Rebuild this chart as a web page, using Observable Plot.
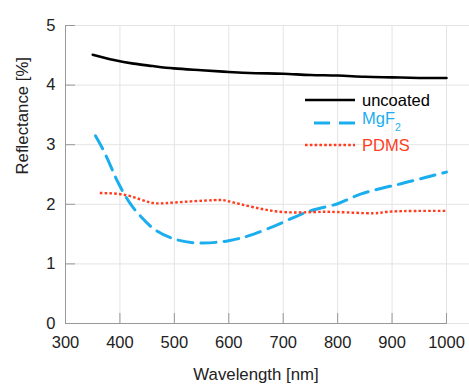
<!DOCTYPE html>
<html>
<head>
<meta charset="utf-8">
<script src="https://cdn.jsdelivr.net/npm/d3@7"></script>
<script src="https://cdn.jsdelivr.net/npm/@observablehq/plot@0.6"></script>
<style>
  html, body { margin: 0; padding: 0; background: #fff; }
  #wrap { position: relative; width: 469px; height: 385px; font-family: "Liberation Sans", Arial, sans-serif; }
  #legend { position: absolute; left: 305px; top: 89px; font-size: 16.5px; line-height: 22.5px; }
  #legend .row { display: flex; align-items: center; height: 22.5px; }
  #legend svg { width: 52px; height: 10px; margin-right: 5px; }
  sub { font-size: 10.5px; vertical-align: -7px; }
</style>
</head>
<body>
<div id="wrap">
  <div id="chart"></div>
  <div id="legend"></div>
</div>
<script>
const wavelengthUncoated = [350, 389, 425, 460, 499, 550, 600, 650, 700, 750, 800, 850, 900, 950, 1000];
const uncoated =           [4.51, 4.42, 4.36, 4.32, 4.28, 4.25, 4.22, 4.20, 4.19, 4.17, 4.16, 4.14, 4.13, 4.12, 4.12];

const wavelengthMgF2 = [355, 370, 385, 398, 419, 440, 462, 499, 548, 600, 646, 700, 750, 800, 842, 900, 940, 1000];
const mgf2 =           [3.15, 2.90, 2.60, 2.34, 2.01, 1.78, 1.59, 1.42, 1.35, 1.39, 1.50, 1.70, 1.89, 2.01, 2.17, 2.31, 2.40, 2.54];

const wavelengthPDMS = [363, 413, 456, 500, 572, 600, 646, 700, 756, 800, 866, 900, 1000];
const pdms =           [2.19, 2.15, 2.03, 2.03, 2.07, 2.05, 1.95, 1.87, 1.87, 1.87, 1.85, 1.88, 1.89];

const xTicks = [300, 400, 500, 600, 700, 800, 900, 1000];
const yTicks = [0, 1, 2, 3, 4, 5];

const seriesNames = ["uncoated", "MgF2", "PDMS"];
const seriesLabels = ["uncoated", "MgF<sub>2</sub>", "PDMS"];
const seriesColors = ["#000000", "#1aaeee", "#ff3d1f"];

const toRows = (xs, ys, name) => xs.map((x, i) => ({wl: x, r: ys[i], series: name}));
const rowsU = toRows(wavelengthUncoated, uncoated, seriesNames[0]);
const rowsM = toRows(wavelengthMgF2, mgf2, seriesNames[1]);
const rowsP = toRows(wavelengthPDMS, pdms, seriesNames[2]);

const W = 469, H = 385, ML = 65, MR = 23, MT = 25, MB = 62, TICK = 10;

const chart = Plot.plot({
  width: W,
  height: H,
  marginLeft: ML,
  marginRight: MR,
  marginTop: MT,
  marginBottom: MB,
  style: {fontFamily: "Liberation Sans, Arial, sans-serif", fontSize: "16px", color: "#222", background: "#fff"},
  x: {domain: [300, 1000]},
  y: {domain: [0, 5]},
  marks: [
    Plot.gridX(xTicks, {stroke: "#e4e4e4", strokeOpacity: 1}),
    Plot.gridY(yTicks, {stroke: "#e4e4e4", strokeOpacity: 1, insetRight: -MR}),
    Plot.tickX(xTicks, {x: d => d, stroke: "#999", insetTop: H - MT - MB - TICK}),
    Plot.tickY(yTicks, {y: d => d, stroke: "#999", insetRight: W - ML - MR - TICK}),
    Plot.frame({anchor: "left", stroke: "#999"}),
    Plot.frame({anchor: "bottom", stroke: "#999"}),
    Plot.axisX(xTicks, {tickSize: 0, tickPadding: 13, tickFormat: d3.format("d"), label: null, fontSize: 16.5, fill: "#222"}),
    Plot.axisY(yTicks, {tickSize: 0, tickPadding: 10, tickFormat: d3.format("d"), label: null, fontSize: 16.5, fill: "#222"}),
    Plot.text(["Wavelength [nm]"], {frameAnchor: "bottom", dy: 56, fontSize: 16.8, fill: "#222"}),
    Plot.text(["Reflectance [%]"], {frameAnchor: "left", dx: -43, rotate: -90, fontSize: 16.8, fill: "#222"}),
    Plot.line(rowsU, {x: "wl", y: "r", stroke: seriesColors[0], strokeWidth: 2.6, curve: "natural"}),
    Plot.line(rowsM, {x: "wl", y: "r", stroke: seriesColors[1], strokeWidth: 3, strokeDasharray: "15,8", curve: "natural"}),
    Plot.line(rowsP, {x: "wl", y: "r", stroke: seriesColors[2], strokeWidth: 2.4, strokeDasharray: "2.6,2.2", strokeLinecap: "butt", curve: "natural"})
  ]
});
document.getElementById("chart").appendChild(chart);

const dashes = ["none", "16,9", "2.6,2.2"];
const offsets = [0, 16, 0];
const widths = [2.6, 3, 2.4];
const legend = document.getElementById("legend");
seriesNames.forEach((name, i) => {
  const row = document.createElement("div");
  row.className = "row";
  row.innerHTML = `<svg viewBox="0 0 52 10"><line x1="0" x2="50" y1="5" y2="5" stroke="${seriesColors[i]}" stroke-width="${widths[i]}" stroke-dasharray="${dashes[i]}" stroke-dashoffset="${offsets[i]}"/></svg><span style="color:${seriesColors[i]}">${seriesLabels[i]}</span>`;
  legend.appendChild(row);
});
</script>
</body>
</html>
